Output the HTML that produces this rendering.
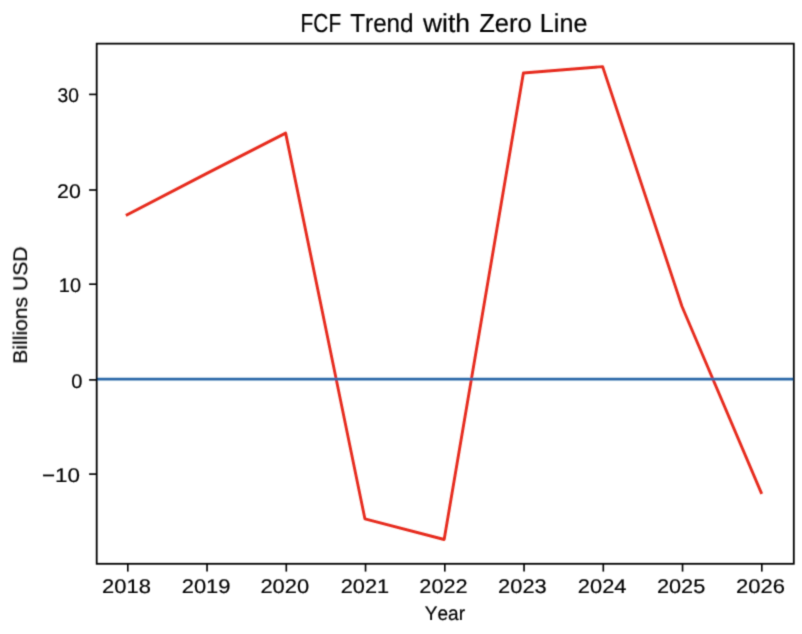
<!DOCTYPE html>
<html><head><meta charset="utf-8"><title>FCF Trend with Zero Line</title>
<style>
html,body{margin:0;padding:0;background:#fff;}
body{width:802px;height:634px;overflow:hidden;}
svg{display:block;}
text{font-family:"Liberation Sans", sans-serif;font-kerning:none;text-rendering:geometricPrecision;stroke:#000;stroke-width:0.2px;}
</style></head>
<body>
<svg width="802" height="634" viewBox="0 0 802 634">
<defs><filter id="soft" filterUnits="userSpaceOnUse" x="0" y="0" width="802" height="634"><feConvolveMatrix order="3" kernelMatrix="0.02517 0.10831 0.02517 0.10831 0.46606 0.10831 0.02517 0.10831 0.02517" edgeMode="none" preserveAlpha="false"/></filter></defs>
<rect x="0" y="0" width="802" height="634" fill="#fff"/>
<g filter="url(#soft)">
<polyline points="127.15,214.70 206.40,173.60 285.65,133.10 364.90,518.80 444.15,539.50 523.40,73.00 602.65,66.60 681.90,306.20 761.15,492.50" fill="none" stroke="#e62c1f" stroke-width="2.9" stroke-linejoin="round" stroke-linecap="square"/>
<line x1="96.7" y1="379.1" x2="793.8" y2="379.1" stroke="#2c68a8" stroke-width="2.75"/>
<rect x="96.7" y="43.65" width="697.10" height="520.15" fill="none" stroke="#000" stroke-width="1.8" stroke-linejoin="miter"/>
<line x1="89.1" y1="94.4" x2="96.7" y2="94.4" stroke="#000" stroke-width="1.65"/>
<line x1="89.1" y1="190.0" x2="96.7" y2="190.0" stroke="#000" stroke-width="1.65"/>
<line x1="89.1" y1="284.2" x2="96.7" y2="284.2" stroke="#000" stroke-width="1.65"/>
<line x1="89.1" y1="379.9" x2="96.7" y2="379.9" stroke="#000" stroke-width="1.65"/>
<line x1="89.1" y1="474.1" x2="96.7" y2="474.1" stroke="#000" stroke-width="1.65"/>
<line x1="127.80" y1="563.8" x2="127.80" y2="571.6" stroke="#000" stroke-width="1.65"/>
<line x1="207.05" y1="563.8" x2="207.05" y2="571.6" stroke="#000" stroke-width="1.65"/>
<line x1="286.30" y1="563.8" x2="286.30" y2="571.6" stroke="#000" stroke-width="1.65"/>
<line x1="365.55" y1="563.8" x2="365.55" y2="571.6" stroke="#000" stroke-width="1.65"/>
<line x1="444.80" y1="563.8" x2="444.80" y2="571.6" stroke="#000" stroke-width="1.65"/>
<line x1="524.05" y1="563.8" x2="524.05" y2="571.6" stroke="#000" stroke-width="1.65"/>
<line x1="603.30" y1="563.8" x2="603.30" y2="571.6" stroke="#000" stroke-width="1.65"/>
<line x1="682.55" y1="563.8" x2="682.55" y2="571.6" stroke="#000" stroke-width="1.65"/>
<line x1="761.80" y1="563.8" x2="761.80" y2="571.6" stroke="#000" stroke-width="1.65"/>
<text transform="translate(300.58,31.95) scale(0.8038,1)" font-size="26.02" fill="#000">FCF</text>
<text transform="translate(350.26,31.95) scale(0.9314,1)" font-size="26.02" fill="#000">Trend</text>
<text transform="translate(422.94,31.95) scale(1.0176,1)" font-size="26.02" fill="#000">with</text>
<text transform="translate(479.19,31.95) scale(0.9830,1)" font-size="26.02" fill="#000">Zero</text>
<text transform="translate(539.84,31.95) scale(0.9673,1)" font-size="26.02" fill="#000">Line</text>
<text transform="translate(57.47,101.60) scale(0.9725,1)" font-size="19.77" fill="#000">30</text>
<text transform="translate(57.03,197.70) scale(1.0781,1)" font-size="19.77" fill="#000">20</text>
<text transform="translate(58.78,291.50) scale(1.0097,1)" font-size="19.77" fill="#000">10</text>
<text transform="translate(71.22,387.60) scale(1.0159,1)" font-size="19.77" fill="#000">0</text>
<text transform="translate(42.00,481.50) scale(1.1326,1)" font-size="19.77" fill="#000">−10</text>
<text transform="translate(102.10,592.80) scale(1.1086,1)" font-size="19.77" fill="#000">2018</text>
<text transform="translate(181.72,592.80) scale(1.1097,1)" font-size="19.77" fill="#000">2019</text>
<text transform="translate(260.38,592.80) scale(1.1072,1)" font-size="19.77" fill="#000">2020</text>
<text transform="translate(340.69,592.80) scale(1.1002,1)" font-size="19.77" fill="#000">2021</text>
<text transform="translate(419.37,592.80) scale(1.0973,1)" font-size="19.77" fill="#000">2022</text>
<text transform="translate(498.12,592.80) scale(1.1034,1)" font-size="19.77" fill="#000">2023</text>
<text transform="translate(577.83,592.80) scale(1.1069,1)" font-size="19.77" fill="#000">2024</text>
<text transform="translate(656.90,592.80) scale(1.0989,1)" font-size="19.77" fill="#000">2025</text>
<text transform="translate(736.04,592.80) scale(1.1114,1)" font-size="19.77" fill="#000">2026</text>
<text transform="translate(424.78,619.95) scale(0.9636,1)" font-size="19.77" fill="#000">Year</text>
<g transform="translate(27.0,0) rotate(-90)"><text transform="translate(-363.63,0.00) scale(1.0663,1)" font-size="19.77" fill="#000">Billions USD</text></g>
</g>
</svg>
</body></html>
